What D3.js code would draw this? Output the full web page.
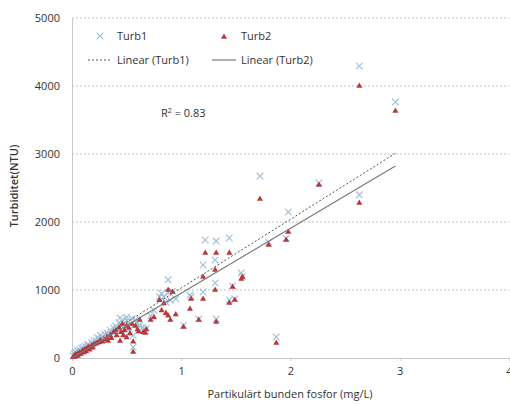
<!DOCTYPE html>
<html>
<head>
<meta charset="utf-8">
<script src="https://cdn.jsdelivr.net/npm/d3@7"></script>
<style>
  body { margin: 0; background: #fff; }
  text { font-family: "Open Sans", "Liberation Sans", sans-serif; fill: #333; }
</style>
</head>
<body>
<div id="chart"></div>
<script>
// sample x values (mg/L) shared by both series
const fosfor = [0.01,0.02,0.03,0.03,0.04,0.05,0.05,0.06,0.07,0.08,0.09,0.10,0.11,0.12,0.13,0.14,0.15,0.16,0.18,0.19,
  0.20,0.22,0.23,0.25,0.26,0.28,0.30,0.32,0.33,0.35,0.36,0.38,0.40,0.41,0.43,0.45,0.46,0.48,0.50,0.52,
  0.55,0.56,0.56,0.58,0.60,0.62,0.65,0.67,0.72,0.75,0.80,0.82,0.84,0.86,0.88,0.88,0.90,0.92,0.95,
  0.44,0.50,0.53,0.61,0.68,0.47,
  1.02,1.08,1.09,1.16,1.20,1.20,1.22,1.31,1.31,1.32,1.32,1.44,1.44,1.47,1.49,1.55,1.56,
  1.72,1.80,1.87,1.96,1.98,2.26,2.63,2.63,2.96];
const turb1 = [30,60,40,90,70,110,50,80,120,100,140,160,120,170,150,190,200,170,230,200,
  250,260,300,280,330,310,350,370,340,410,380,440,470,430,520,480,560,510,550,530,
  580,330,160,560,510,480,450,400,620,700,900,950,900,820,1150,960,850,980,870,
  590,600,420,470,440,360,
  480,926,900,574,1368,970,1735,1441,1103,1720,574,1765,853,1060,870,1250,1200,
  2676,1700,309,1760,2147,2574,4294,2400,3765];
const turb2 = [10,30,20,50,40,60,30,50,80,60,90,110,80,130,100,140,160,120,180,150,
  200,210,220,230,260,240,270,300,250,330,290,380,400,330,450,380,500,410,470,440,
  500,240,90,470,420,560,380,368,560,600,850,700,800,660,1000,620,560,970,640,
  250,300,360,390,420,330,
  456,720,868,560,1191,868,1544,1294,1000,1544,530,1544,808,1044,853,1162,1191,
  2338,1662,220,1735,1853,2544,4000,2279,3632];

// linear trend endpoints
const trendTurb1 = [[0, 20], [2.96, 3010]];
const trendTurb2 = [[0, 0], [2.96, 2824]];

const xTicks = [0, 1, 2, 3, 4];
const yTicks = [0, 1000, 2000, 3000, 4000, 5000];

const width = 510, height = 404;
const margin = {top: 18, right: 1, bottom: 46, left: 72};
const w = width - margin.left - margin.right,
      h = height - margin.top - margin.bottom;

const svg = d3.select("#chart").append("svg")
  .attr("width", width)
  .attr("height", height);

const g = svg.append("g")
  .attr("transform", `translate(${margin.left}, ${margin.top})`);

const x = d3.scaleLinear().domain([0, 4]).range([0, w]);
const y = d3.scaleLinear().domain([0, 5000]).range([h, 0]);

// gridlines
g.selectAll(".grid")
  .data(yTicks.filter(d => d > 0))
  .join("line")
  .attr("x1", 0).attr("x2", w)
  .attr("y1", d => y(d)).attr("y2", d => y(d))
  .attr("stroke", "#bdbdbd")
  .attr("stroke-width", 1)
  .attr("stroke-dasharray", "2,2");

// y axis
const yAxis = g.append("g")
  .call(d3.axisLeft(y).tickValues(yTicks).tickFormat(d3.format("d")).tickSize(0).tickPadding(12));
yAxis.select(".domain").attr("stroke", "#c8c8c8");
yAxis.selectAll("text").style("font-size", "11px").attr("fill", "#333");

// x axis
const xAxis = g.append("g")
  .attr("transform", `translate(0, ${h})`)
  .call(d3.axisBottom(x).tickValues(xTicks).tickFormat(d3.format("d")).tickSize(3).tickPadding(6));
xAxis.select(".domain").attr("stroke", "#c8c8c8");
xAxis.selectAll(".tick line").attr("stroke", "#c8c8c8");
xAxis.selectAll("text").style("font-size", "11px").attr("fill", "#333");

// axis titles
svg.append("text")
  .attr("transform", `translate(18, ${margin.top + h / 2 - 2}) rotate(-90)`)
  .attr("text-anchor", "middle")
  .style("font-size", "11px")
  .style("font-weight", "600")
  .text("Turbiditet(NTU)");

svg.append("text")
  .attr("x", 290)
  .attr("y", 398)
  .attr("text-anchor", "middle")
  .style("font-size", "11px")
  .text("Partikulärt bunden fosfor (mg/L)");

const pts1 = fosfor.map((v, i) => [v, turb1[i]]);
const pts2 = fosfor.map((v, i) => [v, turb2[i]]);

const cross = d3.symbol().type(d3.symbolX).size(30);
const tri = d3.symbol().type(d3.symbolTriangle).size(16);

// Turb1 crosses
g.selectAll(".t1")
  .data(pts1)
  .join("path")
  .attr("d", cross)
  .attr("transform", d => `translate(${x(d[0])}, ${y(d[1])})`)
  .attr("fill", "none")
  .attr("stroke", "#9fbfd8")
  .attr("stroke-width", 1.1);

// Turb2 triangles
g.selectAll(".t2")
  .data(pts2)
  .join("path")
  .attr("d", tri)
  .attr("transform", d => `translate(${x(d[0])}, ${y(d[1])})`)
  .attr("fill", "#b8373a");

// trend lines
const line = d3.line().x(d => x(d[0])).y(d => y(d[1]));
g.append("path")
  .attr("d", line(trendTurb1))
  .attr("fill", "none")
  .attr("stroke", "#555")
  .attr("stroke-width", 1)
  .attr("stroke-dasharray", "2,2");
g.append("path")
  .attr("d", line(trendTurb2))
  .attr("fill", "none")
  .attr("stroke", "#7a7a7a")
  .attr("stroke-width", 1.2);

// legend
const leg = svg.append("g");
leg.append("path").attr("d", cross).attr("transform", "translate(100, 36)")
  .attr("fill", "none").attr("stroke", "#9fbfd8").attr("stroke-width", 1.1);
leg.append("text").attr("x", 117).attr("y", 40).style("font-size", "11px").text("Turb1");
leg.append("path").attr("d", tri).attr("transform", "translate(224, 37)").attr("fill", "#b8373a");
leg.append("text").attr("x", 241).attr("y", 40).style("font-size", "11px").text("Turb2");

leg.append("line").attr("x1", 88).attr("x2", 112).attr("y1", 60).attr("y2", 60)
  .attr("stroke", "#555").attr("stroke-dasharray", "2,2");
leg.append("text").attr("x", 117).attr("y", 64).style("font-size", "11px").text("Linear (Turb1)");
leg.append("line").attr("x1", 212).attr("x2", 236).attr("y1", 60).attr("y2", 60)
  .attr("stroke", "#7a7a7a").attr("stroke-width", 1.2);
leg.append("text").attr("x", 241).attr("y", 64).style("font-size", "11px").text("Linear (Turb2)");

// R squared
const r2 = svg.append("text").attr("x", 161).attr("y", 117).style("font-size", "11px");
r2.append("tspan").text("R");
r2.append("tspan").attr("dy", -4).style("font-size", "7px").text("2");
r2.append("tspan").attr("dy", 4).text(" = 0.83");
</script>
</body>
</html>
